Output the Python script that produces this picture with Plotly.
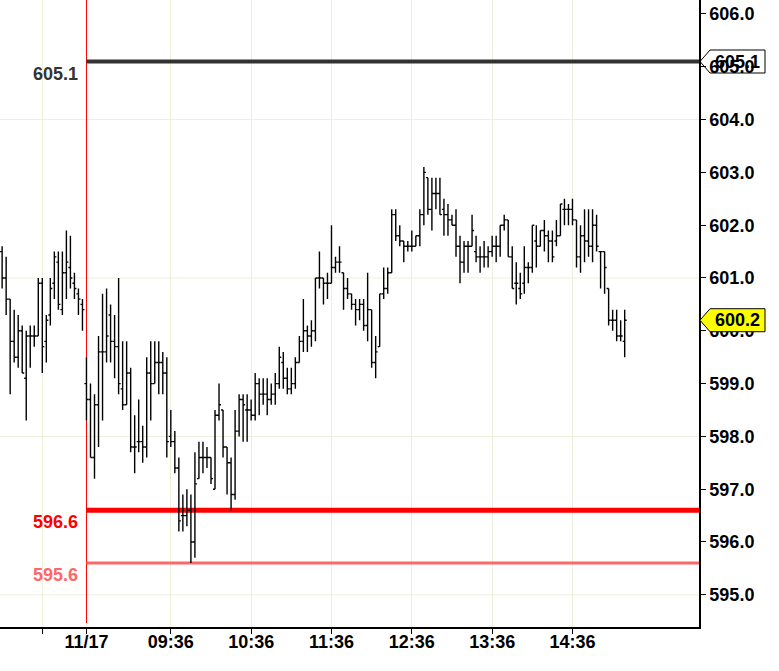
import plotly.graph_objects as go

# 3-minute bars: last 21 bars of the previous session, then the 11/17 session
prev_open = [601.5, 601.0, 600.6, 599.8, 599.5, 600.0, 599.1, 599.9, 599.9, 599.9, 600.9,
             599.8, 600.3, 600.9, 601.3, 600.4, 601.1, 601.2, 600.9, 600.7, 600.5]
prev_high = [601.6, 601.4, 600.6, 600.4, 600.3, 600.1, 600.0, 600.1, 600.1, 601.0, 601.0,
             600.3, 601.0, 601.5, 601.5, 601.5, 601.9, 601.8, 601.1, 600.8, 600.6]
prev_low = [600.8, 600.3, 598.8, 599.4, 599.3, 599.2, 598.3, 599.3, 599.7, 599.9, 599.2,
            599.4, 600.1, 600.6, 600.4, 600.3, 600.6, 600.8, 600.6, 600.3, 600.0]
prev_close = [601.0, 600.6, 599.8, 599.5, 600.0, 599.2, 599.9, 599.9, 599.9, 600.9, 599.7,
              600.2, 600.8, 601.4, 600.5, 601.1, 601.3, 601.0, 600.8, 600.6, 600.4]

day_open = [599.0, 598.7, 597.6, 598.6, 599.6, 599.6, 600.3, 599.8, 599.7, 598.9,
            598.6, 599.2, 597.8, 597.9, 597.9, 597.8, 599.2, 599.0, 599.4, 599.4,
            599.2, 598.0, 597.9, 597.4, 596.5, 596.5, 596.6, 596.0, 597.2, 597.6,
            597.6, 597.6, 597.0, 598.4, 598.5, 597.8, 597.5, 596.9, 598.1, 598.7,
            598.5, 598.5, 598.4, 599.0, 598.8, 598.8, 598.7, 598.8, 599.0, 599.4,
            599.1, 598.9, 599.0, 599.4, 599.8, 600.0, 599.9, 600.0, 601.0, 601.0,
            600.9, 600.9, 601.2, 601.3, 601.1, 600.8, 600.7, 600.5, 600.4, 600.5,
            600.1, 600.4, 599.4, 599.7, 600.7, 600.8, 601.1, 602.2, 601.8, 601.7,
            601.6, 601.6, 601.6, 601.8, 602.2, 602.9, 602.3, 602.6, 602.6, 602.3,
            602.2, 602.1, 602.0, 601.6, 601.3, 601.6, 601.6, 601.5, 601.4, 601.4,
            601.4, 601.5, 601.6, 601.6, 602.0, 602.1, 601.4, 600.9, 600.8, 600.9,
            601.2, 601.2, 601.7, 601.6, 601.9, 601.8, 601.7, 601.7, 601.8, 602.3,
            602.3, 602.3, 602.1, 601.4, 601.8, 601.7, 601.6, 602.0, 601.5, 601.5,
            600.8, 600.2, 600.2, 599.9, 599.8]
day_high = [599.5, 599.0, 598.8, 599.9, 600.7, 600.8, 600.5, 600.3, 601.0, 599.8,
            599.8, 599.3, 598.4, 598.7, 598.2, 599.5, 599.8, 599.8, 599.8, 599.6,
            599.5, 598.5, 598.1, 597.6, 596.9, 597.0, 596.9, 597.7, 597.9, 597.9,
            597.8, 597.6, 598.5, 599.0, 598.5, 597.8, 597.6, 598.5, 598.8, 598.8,
            598.8, 598.7, 599.2, 599.1, 599.1, 599.1, 599.0, 599.2, 599.7, 599.6,
            599.3, 599.3, 599.5, 599.9, 600.6, 600.1, 600.2, 601.0, 601.5, 601.0,
            601.1, 602.0, 601.4, 601.6, 601.1, 601.0, 600.7, 600.6, 600.6, 600.6,
            601.1, 600.4, 599.9, 600.7, 601.2, 601.2, 602.3, 602.3, 602.0, 601.7,
            601.7, 601.9, 601.8, 602.3, 603.1, 602.9, 602.9, 602.9, 602.9, 602.5,
            602.4, 602.2, 602.3, 601.8, 601.7, 601.7, 602.2, 601.8, 601.6, 601.7,
            601.6, 601.8, 601.8, 602.0, 602.2, 602.1, 601.6, 601.3, 601.1, 601.6,
            601.3, 602.0, 602.0, 601.9, 602.1, 601.9, 601.9, 602.1, 602.4, 602.5,
            602.4, 602.5, 602.1, 602.0, 602.3, 602.3, 602.3, 602.2, 601.5, 601.5,
            600.8, 600.4, 600.4, 600.2, 600.4]
day_low = [598.3, 597.6, 597.2, 597.8, 598.3, 599.4, 599.4, 599.1, 598.8, 598.5,
           598.6, 597.7, 597.3, 597.7, 597.5, 597.6, 598.3, 599.0, 598.8, 598.8,
           597.6, 597.8, 597.3, 596.2, 596.2, 596.3, 595.6, 595.7, 597.2, 597.3,
           597.4, 597.1, 597.0, 598.3, 597.6, 596.9, 596.6, 596.8, 598.0, 597.9,
           597.9, 598.3, 598.3, 598.4, 598.6, 598.4, 598.6, 598.6, 598.9, 598.9,
           598.8, 598.8, 598.9, 599.4, 599.6, 599.6, 599.7, 599.8, 600.8, 600.5,
           600.6, 600.9, 601.1, 601.1, 600.4, 600.6, 600.4, 600.1, 600.2, 600.0,
           599.8, 599.3, 599.1, 599.7, 600.6, 600.7, 601.1, 601.7, 601.6, 601.3,
           601.5, 601.5, 601.6, 601.6, 602.0, 602.2, 601.9, 602.3, 602.2, 601.8,
           601.8, 602.0, 601.4, 600.9, 601.1, 601.1, 601.6, 601.3, 601.1, 601.2,
           601.2, 601.4, 601.3, 601.4, 601.9, 601.4, 600.8, 600.5, 600.6, 600.7,
           600.9, 601.1, 601.2, 601.6, 601.5, 601.3, 601.3, 601.6, 601.8, 602.0,
           602.0, 602.0, 601.2, 601.1, 601.3, 601.4, 601.3, 601.5, 600.8, 600.7,
           600.1, 600.0, 599.8, 599.8, 599.5]
day_close = [598.7, 597.6, 598.6, 599.6, 599.6, 599.9, 599.8, 599.7, 599.0, 598.6,
             599.2, 597.8, 597.8, 597.9, 597.8, 599.2, 599.0, 599.4, 599.4, 599.2,
             597.9, 597.9, 597.4, 596.4, 596.5, 596.6, 596.0, 597.1, 597.6, 597.6,
             597.6, 597.2, 598.4, 598.6, 597.8, 597.5, 596.9, 598.1, 598.7, 598.6,
             598.5, 598.4, 599.0, 598.8, 598.8, 598.7, 598.8, 599.0, 599.5, 599.1,
             598.9, 599.0, 599.4, 599.8, 600.0, 599.9, 600.0, 601.0, 601.0, 600.9,
             600.9, 601.2, 601.3, 601.3, 600.8, 600.7, 600.5, 600.4, 600.5, 600.1,
             600.4, 599.4, 599.6, 600.7, 600.8, 601.1, 602.2, 601.8, 601.7, 601.6,
             601.6, 601.6, 601.8, 602.2, 603.0, 602.3, 602.6, 602.6, 602.2, 602.2,
             602.1, 602.0, 601.6, 601.3, 601.6, 601.6, 601.9, 601.4, 601.4, 601.4,
             601.5, 601.6, 601.6, 602.0, 602.1, 601.4, 600.8, 600.9, 600.7, 601.2,
             601.2, 602.0, 601.6, 601.9, 601.8, 601.7, 601.4, 601.8, 602.4, 602.3,
             602.3, 602.1, 601.4, 601.8, 601.7, 601.6, 602.0, 601.6, 601.5, 601.2,
             600.2, 600.2, 599.9, 599.9, 600.2]

# bar slots: negative = previous session, 0 = first bar of 11/17
bar_pos = list(range(-len(prev_open), 0)) + list(range(len(day_open)))

tick_pos = [-11, 0, 21, 41, 61, 81, 101, 121]
tick_text = ["", "11/17", "09:36", "10:36", "11:36", "12:36", "13:36", "14:36"]
price_ticks = [595, 596, 597, 598, 599, 600, 601, 602, 603, 604, 605, 606]
grid_prices = [595, 598, 601, 604]

# reference levels: (price, colour, width)
levels = [(605.1, "#333333", 4), (596.6, "#ff0000", 5), (595.6, "#ff6666", 3)]
last_price = 600.2

y_lo, y_hi = 594.39, 606.265
x_lo, x_hi = -21.53, 152.5
W, H = 779, 671
M_R, M_B = 80, 44
PLOT_W, PLOT_H = W - M_R, H - M_B
px_per_unit = PLOT_H / (y_hi - y_lo)
FONT = "Liberation Sans, Arial"

fig = go.Figure()
fig.add_trace(go.Ohlc(
    x=bar_pos,
    open=prev_open + day_open,
    high=prev_high + day_high,
    low=prev_low + day_low,
    close=prev_close + day_close,
    increasing_line_color="black",
    decreasing_line_color="black",
    line_width=1.4,
    tickwidth=0.5,
    hoverinfo="skip",
    showlegend=False,
))

shapes = []
for g in grid_prices:
    shapes.append(dict(type="line", xref="x", yref="y", x0=x_lo, x1=x_hi, y0=g, y1=g,
                       line=dict(color="#eeeedd", width=1), layer="below"))

# session start marker
shapes.append(dict(type="line", xref="x", yref="y", x0=0, x1=0,
                   y0=y_lo + 4 / px_per_unit, y1=y_hi,
                   line=dict(color="#ff0000", width=1), layer="between"))

annotations = []
for price, col, w in levels:
    shapes.append(dict(type="line", xref="x", yref="y", x0=0, x1=x_hi, y0=price, y1=price,
                       line=dict(color=col, width=w), layer="between"))
    annotations.append(dict(x=-1.5, y=price, xref="x", yref="y", text=f"{price:.1f}",
                            showarrow=False, xanchor="right", yanchor="middle", yshift=-12,
                            font=dict(family=FONT, size=18, weight="bold", color=col)))


def price_tag(price, fill):
    # pointer box to the right of the price axis, in paper coordinates
    lo = (price - y_lo) / (y_hi - y_lo)
    dy = 11.5 / PLOT_H
    x0 = 1 + 1 / PLOT_W
    x1 = 1 + 11 / PLOT_W
    x2 = 1 + 66 / PLOT_W
    path = (f"M{x0},{lo} L{x1},{lo + dy} L{x2},{lo + dy} "
            f"L{x2},{lo - dy} L{x1},{lo - dy} Z")
    shapes.append(dict(type="path", xref="paper", yref="paper", path=path,
                       fillcolor=fill, line=dict(color="black", width=1), layer="above"))
    annotations.append(dict(x=(x1 + x2) / 2, y=price, xref="paper", yref="y",
                            xanchor="center", yanchor="middle",
                            text=f"{price:.1f}", showarrow=False,
                            font=dict(family=FONT, size=18, weight="bold", color="black")))


price_tag(levels[0][0], "rgba(0,0,0,0)")
price_tag(last_price, "#ffff00")

fig.update_layout(
    width=W, height=H,
    margin=dict(l=0, r=M_R, t=0, b=M_B),
    paper_bgcolor="white",
    plot_bgcolor="white",
    shapes=shapes,
    annotations=annotations,
    showlegend=False,
)
fig.update_xaxes(
    range=[x_lo, x_hi],
    tickvals=tick_pos, ticktext=tick_text,
    ticks="outside", ticklen=5, tickcolor="black",
    ticklabelstandoff=-7,
    showgrid=True, gridcolor="#eeeedd", gridwidth=1,
    showline=True, linecolor="black", linewidth=1.5,
    zeroline=False,
    rangeslider_visible=False,
    tickfont=dict(family=FONT, size=18, weight="bold", color="black"),
)
fig.update_yaxes(
    range=[y_lo, y_hi], side="right",
    tickvals=price_ticks, tickformat=".1f",
    ticks="outside", ticklen=5, tickcolor="black",
    showgrid=False,
    showline=True, linecolor="black", linewidth=1.5,
    zeroline=False,
    tickfont=dict(family=FONT, size=18, weight="bold", color="black"),
)

fig.write_html("out.html", config={"displayModeBar": False},
               post_script="document.body.style.margin='0';")
